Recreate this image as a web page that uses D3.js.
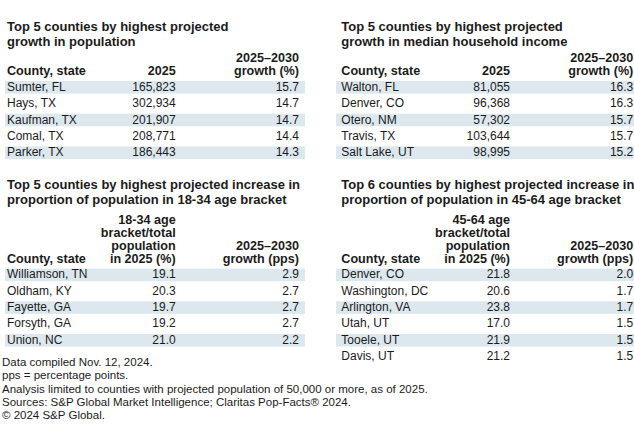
<!DOCTYPE html>
<html><head><meta charset="utf-8">
<script src="https://cdn.jsdelivr.net/npm/d3@7"></script>
<style>
body{margin:0;background:#fff;}
svg{display:block;font-family:"Liberation Sans",Arial,sans-serif;}
</style></head>
<body><svg id="c" width="634" height="439"></svg>
<script>
// ---- Data ----
const popCounties = ["Sumter, FL","Hays, TX","Kaufman, TX","Comal, TX","Parker, TX"];
const pop2025 = [165823, 302934, 201907, 208771, 186443];
const popGrowth = [15.7, 14.7, 14.7, 14.4, 14.3];

const incCounties = ["Walton, FL","Denver, CO","Otero, NM","Travis, TX","Salt Lake, UT"];
const inc2025 = [81055, 96368, 57302, 103644, 98995];
const incGrowth = [16.3, 16.3, 15.7, 15.7, 15.2];

const youngCounties = ["Williamson, TN","Oldham, KY","Fayette, GA","Forsyth, GA","Union, NC"];
const youngShare = [19.1, 20.3, 19.7, 19.2, 21.0];
const youngGrowth = [2.9, 2.7, 2.7, 2.7, 2.2];

const midCounties = ["Denver, CO","Washington, DC","Arlington, VA","Utah, UT","Tooele, UT","Davis, UT"];
const midShare = [21.8, 20.6, 23.8, 17.0, 21.9, 21.2];
const midGrowth = [2.0, 1.7, 1.7, 1.5, 1.5, 1.5];

const titles = [
  ["Top 5 counties by highest projected","growth in population"],
  ["Top 5 counties by highest projected","growth in median household income"],
  ["Top 5 counties by highest projected increase in","proportion of population in 18-34 age bracket"],
  ["Top 6 counties by highest projected increase in","proportion of population in 45-64 age bracket"]
];
const headers = [
  [["County, state"],["2025"],["2025–2030","growth (%)"]],
  [["County, state"],["2025"],["2025–2030","growth (%)"]],
  [["County, state"],["18-34 age","bracket/total","population","in 2025 (%)"],["2025–2030","growth (pps)"]],
  [["County, state"],["45-64 age","bracket/total","population","in 2025 (%)"],["2025–2030","growth (pps)"]]
];
const footnotes = [
  "Data compiled Nov. 12, 2024.",
  "pps = percentage points.",
  "Analysis limited to counties with projected population of 50,000 or more, as of 2025.",
  "Sources: S&P Global Market Intelligence; Claritas Pop-Facts® 2024.",
  "© 2024 S&P Global."
];

// ---- Layout ----
const svg = d3.select("#c");
const ink = "#1b1b1b", band = "#dde8ee";
const fmtInt = d3.format(",");
const fmt1 = d3.format(".1f");

function drawTable(cfg){
  const g = svg.append("g");
  g.selectAll("text.t").data(cfg.title).join("text")
    .attr("x", cfg.x).attr("y", (d,i)=>cfg.titleY + i*15)
    .attr("font-size", 13).attr("font-weight", "bold").attr("fill", ink)
    .text(d=>d);
  const colX = [cfg.x, cfg.x + 168.7, cfg.x + 292];
  const anchors = ["start","end","end"];
  cfg.header.forEach((lines, ci)=>{
    g.selectAll(null).data(lines).join("text")
      .attr("x", colX[ci]).attr("y", (d,i)=>cfg.headerY - (lines.length-1-i)*13)
      .attr("text-anchor", anchors[ci])
      .attr("font-size", 12.6).attr("font-weight", "bold").attr("fill", ink)
      .text(d=>d);
  });
  const n = cfg.names.length;
  const pitch = 16.35;
  const top = cfg.headerY + 6;
  const y = d3.scaleBand().domain(d3.range(n)).range([top, top + n*pitch]).paddingInner(0).paddingOuter(0);
  g.selectAll("rect").data(d3.range(n).filter(i=>i%2===0)).join("rect")
    .attr("x", cfg.bandX0).attr("width", cfg.bandX1 - cfg.bandX0)
    .attr("y", i=>y(i)).attr("height", 12.6).attr("fill", band);
  const cols = [cfg.names, cfg.v1.map(cfg.f1), cfg.v2.map(fmt1)];
  cols.forEach((vals, ci)=>{
    g.selectAll(null).data(vals).join("text")
      .attr("x", colX[ci]).attr("y", (d,i)=>y(i) + 9.8)
      .attr("text-anchor", anchors[ci])
      .attr("font-size", 12).attr("fill", ink)
      .text(d=>d);
  });
}

drawTable({x:7, titleY:30.7, title:titles[0], header:headers[0], headerY:75,
  names:popCounties, v1:pop2025, f1:fmtInt, v2:popGrowth, bandX0:5, bandX1:305});
drawTable({x:341.3, titleY:30.7, title:titles[1], header:headers[1], headerY:75,
  names:incCounties, v1:inc2025, f1:fmtInt, v2:incGrowth, bandX0:336, bandX1:640});
drawTable({x:7, titleY:189.3, title:titles[2], header:headers[2], headerY:262.6,
  names:youngCounties, v1:youngShare, f1:fmt1, v2:youngGrowth, bandX0:5, bandX1:305});
drawTable({x:341.3, titleY:189.3, title:titles[3], header:headers[3], headerY:262.6,
  names:midCounties, v1:midShare, f1:fmt1, v2:midGrowth, bandX0:336, bandX1:640});

svg.append("g").selectAll("text").data(footnotes).join("text")
  .attr("x", 2).attr("y", (d,i)=>366 + i*13.35)
  .attr("font-size", 11.5).attr("fill", ink)
  .text(d=>d);
</script></body></html>
